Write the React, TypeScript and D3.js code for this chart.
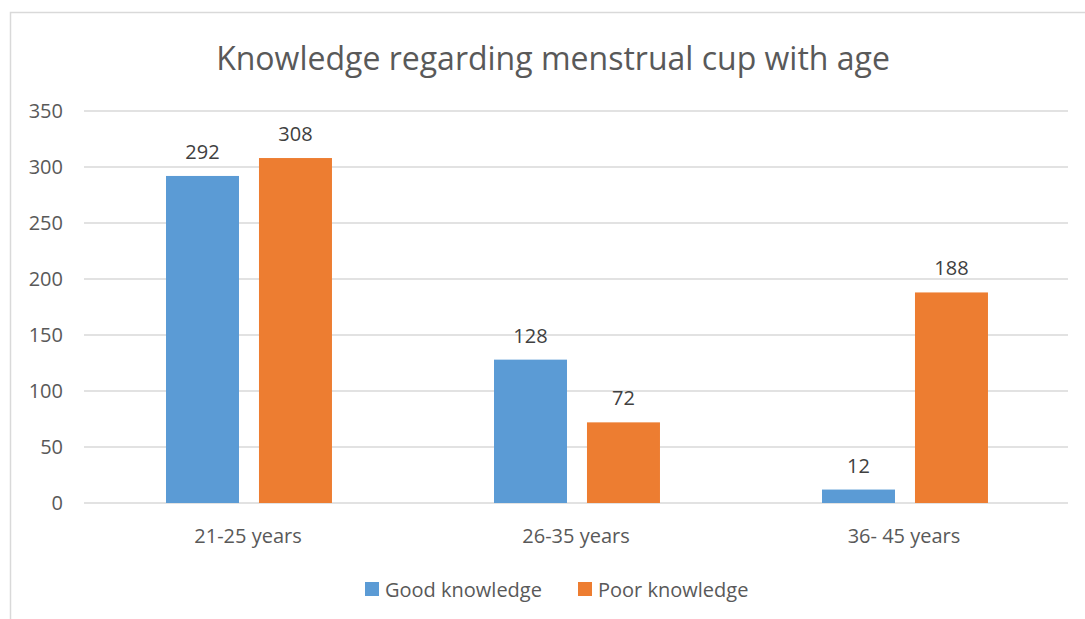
import React, { useEffect, useRef } from 'react';
import * as d3 from 'd3';

const categories = ['21-25 years', '26-35 years', '36- 45 years'];
const seriesNames = ['Good knowledge', 'Poor knowledge'];
const goodKnowledge = [292, 128, 12];
const poorKnowledge = [308, 72, 188];
const yTicks = [0, 50, 100, 150, 200, 250, 300, 350];
const colors = ['#5B9BD5', '#ED7D31'];

const W = 1085;
const H = 619;
const FONT = "'Open Sans', 'Liberation Sans', sans-serif";

export default function App() {
  const svgRef = useRef<SVGSVGElement>(null);

  useEffect(() => {
    if (!svgRef.current) return;
    const svg = d3.select(svgRef.current);
    svg.selectAll('*').remove();

    const margin = { top: 111, right: 17, bottom: 116, left: 84 };
    const innerWidth = W - margin.left - margin.right;
    const innerHeight = H - margin.top - margin.bottom;

    // chart frame
    svg.append('rect')
      .attr('x', 10.5).attr('y', 12.5)
      .attr('width', W + 20).attr('height', H + 20)
      .attr('fill', '#fff')
      .attr('stroke', '#d9d9d9')
      .attr('stroke-width', 1.5);

    svg.append('text')
      .attr('x', 553).attr('y', 70)
      .attr('text-anchor', 'middle')
      .attr('font-family', FONT)
      .attr('font-size', 32)
      .attr('fill', '#595959')
      .text('Knowledge regarding menstrual cup with age');

    const x0 = d3.scaleBand().domain(categories).range([0, innerWidth]);
    const x1 = d3.scaleBand()
      .domain(seriesNames)
      .range([x0.bandwidth() * 0.25, x0.bandwidth() * 0.756])
      .paddingInner(0.215);
    const y = d3.scaleLinear().domain([0, 350]).range([innerHeight, 0]);

    const g = svg.append('g')
      .attr('transform', `translate(${margin.left},${margin.top})`);

    // gridlines
    g.selectAll('line.grid')
      .data(yTicks)
      .join('line')
      .attr('class', 'grid')
      .attr('x1', 0).attr('x2', innerWidth)
      .attr('y1', d => y(d)).attr('y2', d => y(d))
      .attr('stroke', '#d9d9d9')
      .attr('stroke-width', 1.5);

    g.selectAll('text.ytick')
      .data(yTicks)
      .join('text')
      .attr('class', 'ytick')
      .attr('x', -21)
      .attr('y', d => y(d))
      .attr('dy', '0.35em')
      .attr('text-anchor', 'end')
      .attr('font-family', FONT)
      .attr('font-size', 20)
      .attr('fill', '#595959')
      .text(d => d);

    const series = [goodKnowledge, poorKnowledge];
    series.forEach((values, si) => {
      const name = seriesNames[si];
      g.selectAll(`rect.s${si}`)
        .data(values)
        .join('rect')
        .attr('class', `s${si}`)
        .attr('x', (_, i) => x0(categories[i])! + x1(name)!)
        .attr('width', x1.bandwidth())
        .attr('y', d => y(d))
        .attr('height', d => innerHeight - y(d))
        .attr('fill', colors[si]);

      g.selectAll(`text.l${si}`)
        .data(values)
        .join('text')
        .attr('class', `l${si}`)
        .attr('x', (_, i) => x0(categories[i])! + x1(name)! + x1.bandwidth() / 2)
        .attr('y', d => y(d) - 17)
        .attr('text-anchor', 'middle')
        .attr('font-family', FONT)
        .attr('font-size', 20)
        .attr('fill', '#404040')
        .text(d => d);
    });

    // category labels
    g.selectAll('text.xcat')
      .data(categories)
      .join('text')
      .attr('class', 'xcat')
      .attr('x', d => x0(d)! + x0.bandwidth() / 2)
      .attr('y', innerHeight + 40)
      .attr('text-anchor', 'middle')
      .attr('font-family', FONT)
      .attr('font-size', 20)
      .attr('fill', '#595959')
      .text(d => d);

    // legend
    const legendX = [365, 578];
    seriesNames.forEach((name, i) => {
      svg.append('rect')
        .attr('x', legendX[i]).attr('y', 582)
        .attr('width', 14).attr('height', 14)
        .attr('fill', colors[i]);
      svg.append('text')
        .attr('x', legendX[i] + 20).attr('y', 597)
        .attr('font-family', FONT)
        .attr('font-size', 20)
        .attr('fill', '#595959')
        .text(name);
    });
  }, []);

  return (
    <svg
      ref={svgRef}
      width={W}
      height={H}
      style={{ position: 'absolute', left: 0, top: 0, background: '#fff' }}
    />
  );
}
